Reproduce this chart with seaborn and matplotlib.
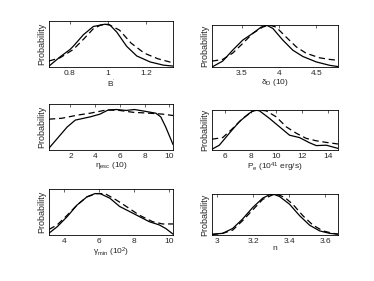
import numpy as np
import matplotlib
matplotlib.use("Agg")
import matplotlib.pyplot as plt
import seaborn as sns

# Panel data (normalised probability curves)
b_x_solid = [0.69, 0.748, 0.80, 0.817, 0.87, 0.922, 0.983, 1.01, 1.045, 1.097, 1.15, 1.22, 1.29, 1.34]
b_y_solid = [0.02, 0.22, 0.38, 0.45, 0.70, 0.88, 0.93, 0.91, 0.76, 0.45, 0.24, 0.11, 0.04, 0.02]
b_x_dash = [0.69, 0.748, 0.817, 0.87, 0.922, 0.96, 1.0, 1.06, 1.12, 1.19, 1.26, 1.34]
b_y_dash = [0.13, 0.20, 0.38, 0.60, 0.83, 0.91, 0.93, 0.80, 0.52, 0.30, 0.18, 0.09]

d_x_solid = [3.1, 3.243, 3.377, 3.512, 3.646, 3.759, 3.827, 3.915, 4.05, 4.184, 4.319, 4.5, 4.678, 4.79]
d_y_solid = [0.0, 0.14, 0.40, 0.64, 0.80, 0.95, 1.0, 0.92, 0.64, 0.40, 0.25, 0.12, 0.04, 0.01]
d_x_dash = [3.1, 3.243, 3.377, 3.512, 3.646, 3.78, 3.87, 3.96, 4.09, 4.23, 4.36, 4.54, 4.68, 4.79]
d_y_dash = [0.14, 0.18, 0.33, 0.56, 0.80, 0.95, 1.0, 0.95, 0.72, 0.48, 0.33, 0.22, 0.18, 0.16]

e_x_solid = [0.26, 0.93, 1.73, 2.39, 3.59, 4.39, 5.05, 5.72, 6.52, 7.18, 7.85, 8.91, 9.31, 9.71, 10.3]
e_y_solid = [0.04, 0.25, 0.50, 0.65, 0.72, 0.78, 0.87, 0.88, 0.86, 0.88, 0.85, 0.80, 0.72, 0.50, 0.12]
e_x_dash = [0.26, 1.3, 2.6, 3.59, 4.9, 5.98, 7.05, 8.38, 9.45, 10.3]
e_y_dash = [0.67, 0.69, 0.76, 0.80, 0.87, 0.86, 0.82, 0.80, 0.78, 0.75]

p_x_solid = [5.0, 5.57, 6.35, 7.13, 7.91, 8.3, 8.69, 9.47, 10.25, 11.03, 11.81, 12.59, 13.11, 13.89, 14.8]
p_y_solid = [0.02, 0.12, 0.42, 0.71, 0.92, 1.0, 0.98, 0.79, 0.58, 0.37, 0.31, 0.18, 0.11, 0.12, 0.04]
p_x_dash = [5.0, 5.83, 6.61, 7.39, 8.17, 8.56, 9.21, 9.99, 10.77, 11.55, 12.33, 13.11, 13.89, 14.8]
p_y_dash = [0.27, 0.31, 0.54, 0.79, 0.97, 1.0, 0.98, 0.83, 0.58, 0.42, 0.29, 0.23, 0.19, 0.15]

g_x_solid = [3.14, 3.61, 4.18, 4.74, 5.31, 5.77, 6.06, 6.62, 7.18, 7.75, 8.31, 8.87, 9.44, 9.82, 10.23]
g_y_solid = [0.04, 0.18, 0.40, 0.65, 0.83, 0.90, 0.90, 0.80, 0.62, 0.51, 0.40, 0.29, 0.22, 0.14, 0.02]
g_x_dash = [3.14, 3.61, 4.18, 4.74, 5.31, 5.87, 6.34, 6.99, 7.56, 8.31, 9.06, 9.63, 10.23]
g_y_dash = [0.12, 0.22, 0.43, 0.65, 0.83, 0.90, 0.90, 0.76, 0.62, 0.43, 0.29, 0.24, 0.24]

n_x_solid = [2.97, 3.029, 3.085, 3.14, 3.196, 3.252, 3.289, 3.308, 3.345, 3.401, 3.457, 3.512, 3.568, 3.624, 3.67]
n_y_solid = [0.02, 0.04, 0.16, 0.39, 0.67, 0.90, 0.98, 1.0, 0.94, 0.75, 0.47, 0.24, 0.10, 0.04, 0.02]
n_x_dash = [2.97, 3.029, 3.085, 3.14, 3.196, 3.252, 3.308, 3.327, 3.373, 3.419, 3.475, 3.531, 3.586, 3.643, 3.67]
n_y_dash = [0.01, 0.04, 0.12, 0.35, 0.61, 0.87, 0.98, 1.0, 0.92, 0.75, 0.47, 0.24, 0.10, 0.04, 0.02]

labels = [r"B$^{'}$", r"$\delta_D$ (10)", r"$\eta_{esc}$ (10)",
          r"P$_e$ (10$^{41}$ erg/s)", r"$\gamma_{min}$ (10$^2$)", "n"]
xlims = [(0.69, 1.34), (3.1, 4.79), (0.26, 10.3), (5.0, 14.8), (3.14, 10.23), (2.97, 3.67)]
xticks = [[0.8, 1, 1.2], [3.5, 4, 4.5], [2, 4, 6, 8, 10], [6, 8, 10, 12, 14],
          [4, 6, 8, 10], [3, 3.2, 3.4, 3.6]]
ticklabels = [["0.8", "1", "1.2"], ["3.5", "4", "4.5"], ["2", "4", "6", "8", "10"],
              ["6", "8", "10", "12", "14"], ["4", "6", "8", "10"], ["3", "3.2", "3.4", "3.6"]]
ytops = [0.93, 1.0, 0.98, 1.0, 0.98, 1.0]

series = [(b_x_solid, b_y_solid, b_x_dash, b_y_dash),
          (d_x_solid, d_y_solid, d_x_dash, d_y_dash),
          (e_x_solid, e_y_solid, e_x_dash, e_y_dash),
          (p_x_solid, p_y_solid, p_x_dash, p_y_dash),
          (g_x_solid, g_y_solid, g_x_dash, g_y_dash),
          (n_x_solid, n_y_solid, n_x_dash, n_y_dash)]

sns.set_style("white")
plt.rcParams['font.family'] = ['Liberation Sans', 'DejaVu Sans']
plt.rcParams['mathtext.default'] = 'regular'

W, H = 374, 281
fig = plt.figure(figsize=(W / 100, H / 100), dpi=100)

# axes boxes in pixels: left, top, right, bottom
boxes = [(49, 21, 173, 67), (212, 25, 338, 67),
         (49, 104, 173, 150), (212, 110, 338, 150),
         (49, 189, 173, 235), (212, 194, 338, 235)]

for i, (l, t, r, b) in enumerate(boxes):
    ax = fig.add_axes([l / W, 1 - b / H, (r - l) / W, (b - t) / H])
    xs, ys, xd, yd = series[i]
    sns.lineplot(x=xs, y=ys, ax=ax, color='k', linewidth=0.9, sort=False)
    sns.lineplot(x=xd, y=yd, ax=ax, color='k', linewidth=0.9, sort=False,
                 linestyle=(0, (5, 3)))
    ax.set_xlim(*xlims[i])
    ax.set_ylim(0, ytops[i] * 1.0 if i in (1, 3, 5) else 1.0)
    ax.set_xticks(xticks[i])
    ax.set_xticklabels(ticklabels[i], fontsize=6)
    ax.set_yticks([])
    ax.tick_params(axis='x', direction='in', top=True, length=2, width=0.5, pad=2)
    ax.set_xlabel(labels[i], fontsize=6, labelpad=0.5)
    ax.set_ylabel("Probability", fontsize=6.5, labelpad=2)
    for s in ax.spines.values():
        s.set_linewidth(0.6)
        s.set_color('k')

fig.savefig("out.png", dpi=100)
